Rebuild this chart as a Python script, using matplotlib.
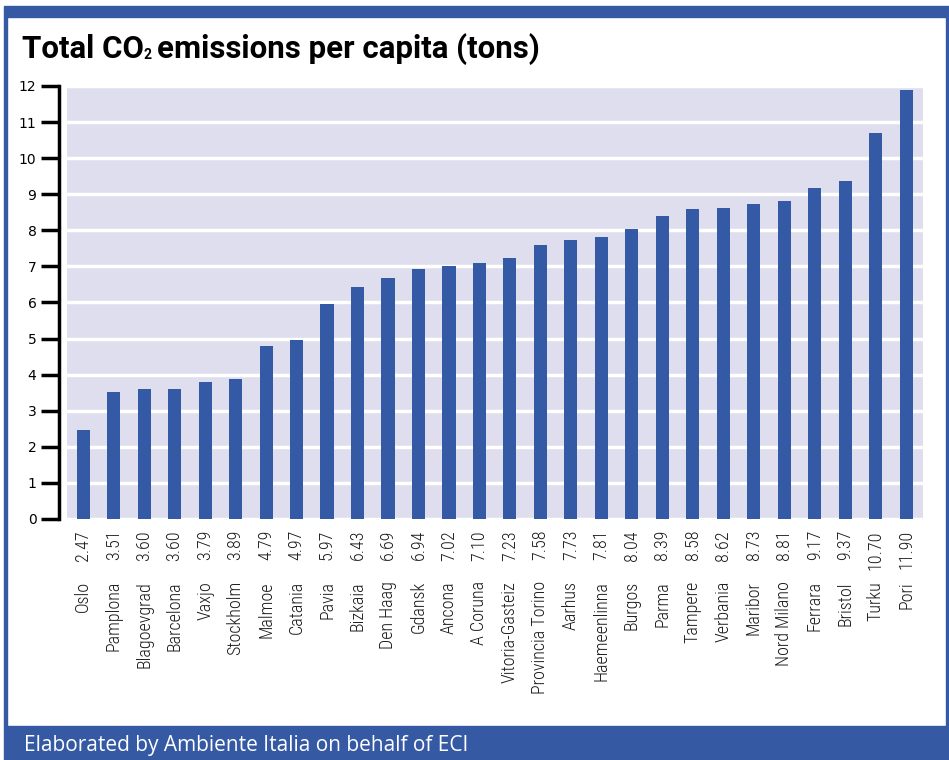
import matplotlib

matplotlib.use("Agg")
import matplotlib.pyplot as plt
from matplotlib.patches import Rectangle
from matplotlib.transforms import offset_copy

cities = [
    "Oslo", "Pamplona", "Blagoevgrad", "Barcelona", "Vaxjo", "Stockholm",
    "Malmoe", "Catania", "Pavia", "Bizkaia", "Den Haag", "Gdansk", "Ancona",
    "A Coruna", "Vitoria-Gasteiz", "Provincia Torino", "Aarhus", "Haemeenlinna",
    "Burgos", "Parma", "Tampere", "Verbania", "Maribor", "Nord Milano",
    "Ferrara", "Bristol", "Turku", "Pori",
]
values = [
    2.47, 3.51, 3.60, 3.60, 3.79, 3.89, 4.79, 4.97, 5.97, 6.43, 6.69, 6.94,
    7.02, 7.10, 7.23, 7.58, 7.73, 7.81, 8.04, 8.39, 8.58, 8.62, 8.73, 8.81,
    9.17, 9.37, 10.70, 11.90,
]
yticks = list(range(0, 13))

BLUE = "#3459a5"
BAND = "#3559a3"
BG = "#dedeee"
NARROW = ["Roboto Condensed", "DejaVu Sans"]
TITLE_FONT = ["Roboto", "DejaVu Sans"]

W, H = 949, 760
fig = plt.figure(figsize=(W / 100, H / 100), dpi=100)

# frame: top band, side lines, footer band
fig.patches.append(Rectangle((4 / W, 1 - 17 / H), 1 - 4 / W, 11 / H,
                             transform=fig.transFigure, color=BAND, zorder=0))
fig.patches.append(Rectangle((4 / W, 34 / H), 2.5 / W, 1 - 51 / H,
                             transform=fig.transFigure, color=BAND, zorder=0))
fig.patches.append(Rectangle((1 - 3 / W, 34 / H), 3 / W, 1 - 51 / H,
                             transform=fig.transFigure, color=BAND, zorder=0))
fig.patches.append(Rectangle((4 / W, 0), 1 - 4 / W, 34 / H,
                             transform=fig.transFigure, color=BAND, zorder=0))

fig.text(24 / W, 1 - 746 / H, "Elaborated by Ambiente Italia on behalf of ECI",
         color="white", fontsize=15, family=["Open Sans", "DejaVu Sans"], va="center")

ax = fig.add_axes([67 / W, 1 - 519 / H, (923 - 67) / W, (519 - 86) / H])
ax.set_facecolor(BG)
x = list(range(len(cities)))
ax.bar(x, values, width=0.43, color=BLUE, zorder=3)
ax.set_xlim(-0.53, len(cities) - 1 + 0.55)
ax.set_ylim(0, 12)
ax.set_yticks(yticks)
ax.set_yticklabels([str(t) for t in yticks], family=NARROW, fontsize=13,
                   weight="light", color="#1a1a1a")
ax.yaxis.grid(True, color="white", linewidth=2.5)
ax.set_axisbelow(True)
ax.set_xticks([])
for s in ["top", "right", "bottom"]:
    ax.spines[s].set_visible(False)
ax.spines["left"].set_position(("outward", 6))
ax.spines["left"].set_linewidth(2.5)
ax.tick_params(axis="y", length=13, width=2.5, pad=3)

trans = ax.get_xaxis_transform()
for xi, name, v in zip(x, cities, values):
    ax.text(xi, 0, f"{v:.2f}", rotation=90, ha="center", va="top",
            family=NARROW, fontsize=13, weight="light", color="#1a1a1a",
            transform=offset_copy(trans, fig=fig, y=-11, units="dots"))
    ax.text(xi, 0, name, rotation=90, ha="center", va="top",
            family=NARROW, fontsize=13, weight="light", color="#1a1a1a",
            transform=offset_copy(trans, fig=fig, y=-62, units="dots"))

# title with subscript 2
fig.canvas.draw()
r = fig.canvas.get_renderer()
ty = 1 - 58 / H
t1 = fig.text(22 / W, ty, "Total CO", fontsize=22.5, weight="bold",
              family=TITLE_FONT, va="baseline")
bb = t1.get_window_extent(r)
t2 = fig.text(bb.x1 / W, ty - 1 / H, "2", fontsize=10, weight="bold",
              family=TITLE_FONT, va="baseline")
bb2 = t2.get_window_extent(r)
fig.text(bb2.x1 / W + 5 / W, ty, "emissions per capita (tons)", fontsize=22.5,
         weight="bold", family=TITLE_FONT, va="baseline")

fig.savefig("out.png", dpi=100)
